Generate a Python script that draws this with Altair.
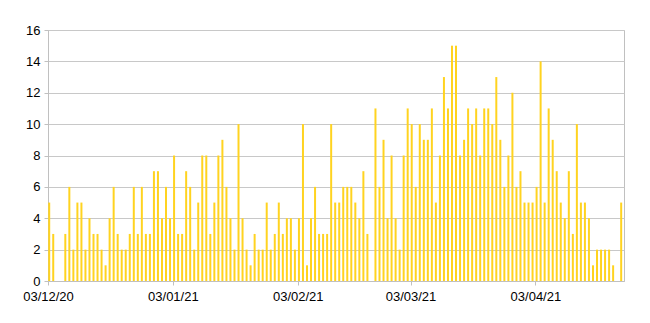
import altair as alt
import pandas as pd

start_date = "2020-12-03"
end_date = "2021-04-25"
counts = [
    5, 3, 0, 0, 3, 6, 2, 5, 5, 2, 4, 3, 3, 2, 1, 4, 6, 3, 2, 2, 3, 6, 3, 6,
    3, 3, 7, 7, 4, 6, 4, 8, 3, 3, 7, 6, 2, 5, 8, 8, 3, 5, 8, 9, 6, 4, 2, 10,
    4, 2, 1, 3, 2, 2, 5, 2, 3, 5, 3, 4, 4, 2, 4, 10, 1, 4, 6, 3, 3, 3, 10, 5,
    5, 6, 6, 6, 5, 4, 7, 3, 0, 11, 6, 9, 4, 8, 4, 2, 8, 11, 10, 6, 10, 9, 9, 11,
    5, 8, 13, 11, 15, 15, 8, 9, 11, 10, 11, 8, 11, 11, 10, 13, 9, 6, 8, 12, 6, 7, 5,
    5, 5, 6, 14, 5, 11, 9, 7, 5, 4, 7, 3, 10, 5, 5, 4, 1, 2, 2, 2, 2, 1, 0, 5,
]
tick_dates = ["2020-12-03", "2021-01-03", "2021-02-03", "2021-03-03", "2021-04-03"]
y_ticks = [0, 2, 4, 6, 8, 10, 12, 14, 16]


def ms(d):
    return int(pd.Timestamp(d, tz="UTC").value // 1_000_000)


dates = pd.date_range(start_date, periods=len(counts), freq="D", tz="UTC")
df = pd.DataFrame({"t": [int(d.value // 1_000_000) for d in dates], "count": counts})

chart = alt.Chart(df).mark_bar(size=2, xOffset=1.2, color="#FFD320").encode(
    x=alt.X(
        "t:T",
        scale=alt.Scale(
            type="utc", domain=[ms(start_date), ms(end_date)], nice=False, padding=0
        ),
        axis=alt.Axis(
            values=[ms(d) for d in tick_dates],
            labelExpr="utcFormat(datum.value, '%d/%m/%y')",
            labelFlush=False,
            title=None,
            grid=False,
            tickSize=4,
            labelPadding=5,
        ),
    ),
    y=alt.Y(
        "count:Q",
        scale=alt.Scale(domain=[0, 16], nice=False),
        axis=alt.Axis(values=y_ticks, title=None, tickSize=4, labelPadding=4),
    ),
).properties(
    width=576,
    height=251,
    autosize=alt.AutoSizeParams(type="none"),
    padding={"left": 48, "top": 30, "right": 26, "bottom": 42},
).configure_view(
    stroke="#c0c0c0", strokeWidth=1
).configure_axis(
    domainColor="#c0c0c0",
    gridColor="#c8c8c8",
    tickColor="#c0c0c0",
    labelFont="Liberation Sans",
    labelFontSize=13,
    labelColor="#000000",
)

chart.save("out.html", embed_options={"renderer": "svg", "actions": False})
